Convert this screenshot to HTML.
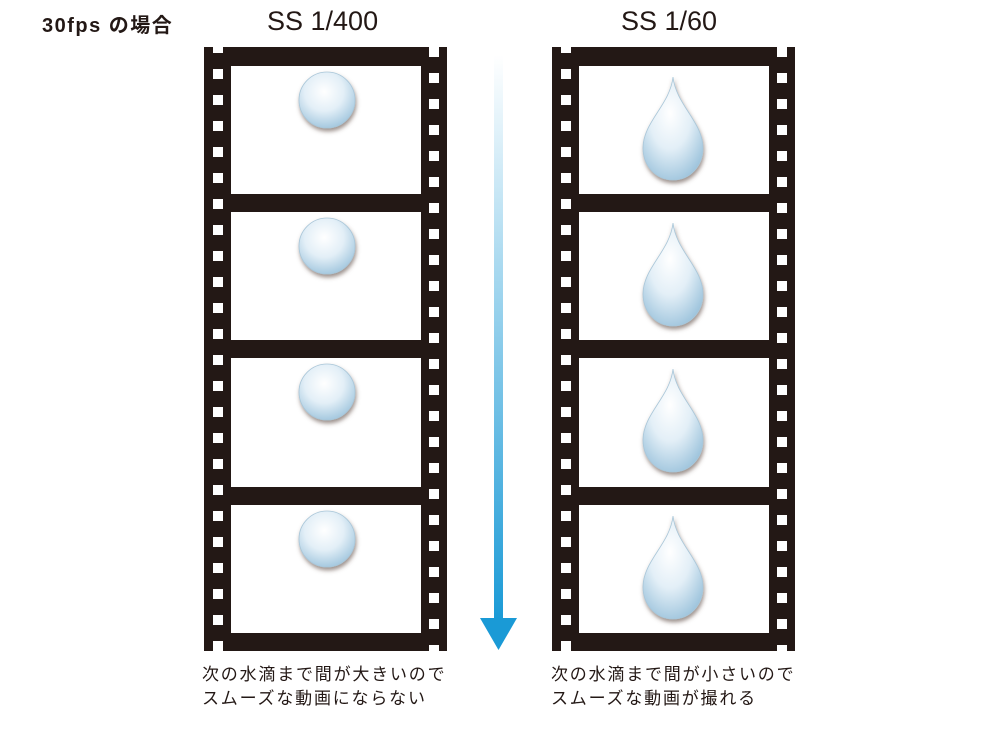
<!DOCTYPE html>
<html><head><meta charset="utf-8"><style>
body{margin:0;width:1000px;height:740px;background:#fff;overflow:hidden;position:relative;font-family:"Liberation Sans","Noto Sans CJK JP",sans-serif}
.t{position:absolute;color:#231815}
</style></head><body>
<svg width="1000" height="740" style="position:absolute;left:0;top:0">
<defs>
<radialGradient id="dg" cx="0.45" cy="0.35" r="0.7">
<stop offset="0" stop-color="#ffffff"/><stop offset="0.5" stop-color="#e3eff7"/><stop offset="1" stop-color="#9cc3dc"/></radialGradient>
<linearGradient id="ag" x1="0" y1="0" x2="0" y2="1">
<stop offset="0" stop-color="#ffffff"/><stop offset="1" stop-color="#1a9ad6"/></linearGradient>
<filter id="sh" x="-30%" y="-30%" width="160%" height="160%"><feDropShadow dx="1" dy="3" stdDeviation="2" flood-color="#5a4a40" flood-opacity="0.6"/></filter>
<g id="strip">
<rect x="0" y="0" width="243" height="604" fill="#231815"/>
<g fill="#fff">
<rect x="27" y="19" width="190" height="128"/>
<rect x="27" y="165" width="190" height="128"/>
<rect x="27" y="311" width="190" height="129"/>
<rect x="27" y="458" width="190" height="128"/>
</g>
</g>
</defs>
<g transform="translate(204,47)"><use href="#strip"/></g>
<g transform="translate(552,47)"><use href="#strip"/></g>
<g fill="#fff" id="holes"></g>
<rect x="494" y="55" width="9" height="566" fill="url(#ag)"/>
<polygon points="480,618 517,618 498.5,650" fill="#1a9ad6"/>
<g filter="url(#sh)">
<circle cx="327" cy="100" r="28" fill="url(#dg)" stroke="#a9c6d8" stroke-width="0.8"/>
<circle cx="327" cy="246" r="28" fill="url(#dg)" stroke="#a9c6d8" stroke-width="0.8"/>
<circle cx="327" cy="392" r="28" fill="url(#dg)" stroke="#a9c6d8" stroke-width="0.8"/>
<circle cx="327" cy="539" r="28" fill="url(#dg)" stroke="#a9c6d8" stroke-width="0.8"/>
</g>
<g filter="url(#sh)" fill="url(#dg)" stroke="#a9c6d8" stroke-width="0.8">
<path d="M673,77 C676,105 703,122 703,148 C703,166 690,180 673,180 C656,180 643,166 643,148 C643,122 670,105 673,77Z"/>
<path d="M673,223 C676,251 703,268 703,294 C703,312 690,326 673,326 C656,326 643,312 643,294 C643,268 670,251 673,223Z"/>
<path d="M673,369 C676,397 703,414 703,440 C703,458 690,472 673,472 C656,472 643,458 643,440 C643,414 670,397 673,369Z"/>
<path d="M673,516 C676,544 703,561 703,587 C703,605 690,619 673,619 C656,619 643,605 643,587 C643,561 670,544 673,516Z"/>
</g>
</svg>
<script>
var g=document.getElementById('holes'),ns='http://www.w3.org/2000/svg';
function add(x,y0){for(var y=y0;y<648;y+=26){var r=document.createElementNS(ns,'rect');var top=Math.max(y,47);var h=Math.min(y+10,651)-top;if(h<=0)continue;r.setAttribute('x',x);r.setAttribute('y',top);r.setAttribute('width',10);r.setAttribute('height',h);g.appendChild(r);}}
add(213,43);add(429,47);add(561,43);add(777,47);
</script>
<div class="t" style="left:42px;top:9px;font-size:20px;font-weight:bold;letter-spacing:1.5px">30fps の場合</div>
<div class="t" style="left:267px;top:6px;font-size:27px">SS 1/400</div>
<div class="t" style="left:621px;top:6px;font-size:27px">SS 1/60</div>
<div class="t" style="left:202px;top:663px;font-size:17px;line-height:24px;letter-spacing:1.8px">次の水滴まで間が大きいので<br>スムーズな動画にならない</div>
<div class="t" style="left:551px;top:663px;font-size:17px;line-height:24px;letter-spacing:1.8px">次の水滴まで間が小さいので<br>スムーズな動画が撮れる</div>
</body></html>
